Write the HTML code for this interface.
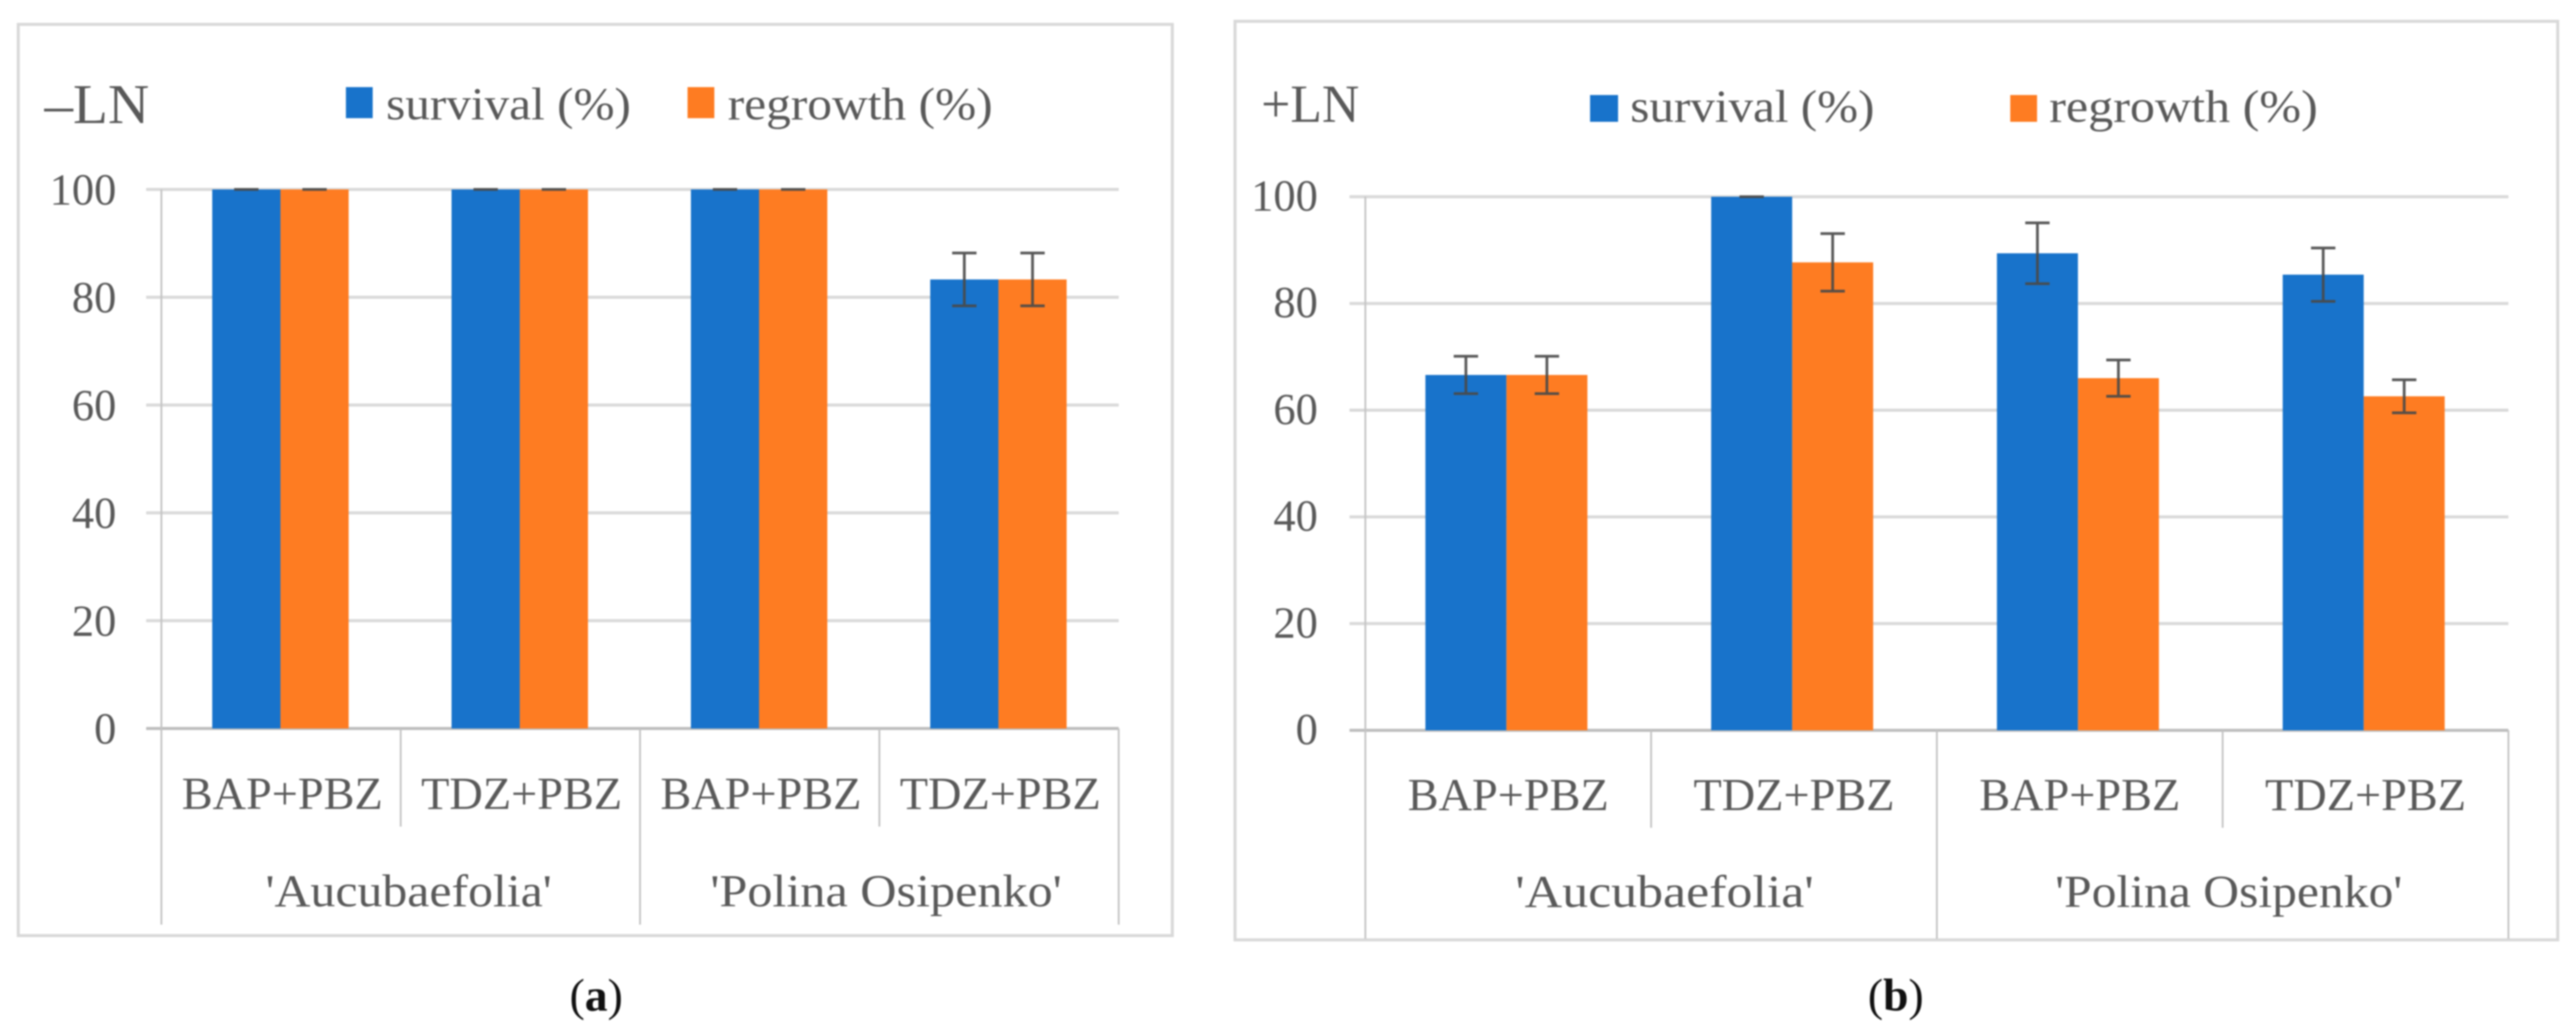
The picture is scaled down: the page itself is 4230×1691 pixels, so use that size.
<!DOCTYPE html>
<html lang="en">
<head>
<meta charset="utf-8">
<title>Survival and regrowth, -LN and +LN</title>
<style>
html,body{margin:0;padding:0;background:#fff;width:4230px;height:1691px;overflow:hidden}
svg{display:block;font-family:"Liberation Serif",serif;filter:blur(1.2px)}
</style>
</head>
<body>
<svg id="figure" width="4230" height="1691" viewBox="0 0 4230 1691" xmlns="http://www.w3.org/2000/svg">
  <rect x="30" y="40" width="1895" height="1496" fill="#fff" stroke="#d9d9d9" stroke-width="5"/>
  <rect x="2028" y="35" width="2172" height="1508" fill="#fff" stroke="#d9d9d9" stroke-width="5"/>
  <g id="panel-a"></g>
  <g id="panel-b"></g>

  <text x="73" y="202" font-size="92" fill="#595959" textLength="172" lengthAdjust="spacingAndGlyphs">–LN</text>
  <rect x="568" y="143" width="44" height="51" fill="#1873cb"/>
  <text x="634" y="196" font-size="75" fill="#595959" textLength="402" lengthAdjust="spacingAndGlyphs">survival (%)</text>
  <rect x="1129" y="143" width="44" height="51" fill="#fe7c22"/>
  <text x="1195" y="196" font-size="75" fill="#595959" textLength="435" lengthAdjust="spacingAndGlyphs">regrowth (%)</text>

  <text x="2071" y="200" font-size="88" fill="#595959" textLength="161" lengthAdjust="spacingAndGlyphs">+LN</text>
  <rect x="2611" y="156" width="46" height="44" fill="#1873cb"/>
  <text x="2677" y="200" font-size="75" fill="#595959" textLength="401" lengthAdjust="spacingAndGlyphs">survival (%)</text>
  <rect x="3301" y="156" width="44" height="44" fill="#fe7c22"/>
  <text x="3365" y="200" font-size="75" fill="#595959" textLength="441" lengthAdjust="spacingAndGlyphs">regrowth (%)</text>

  <text x="979" y="1659" font-size="75" fill="#111" text-anchor="middle">(<tspan font-weight="bold">a</tspan>)</text>
  <text x="3113" y="1659" font-size="75" fill="#111" text-anchor="middle">(<tspan font-weight="bold">b</tspan>)</text>
</svg>
<script>
const yTicks = [0, 20, 40, 60, 80, 100];
const treatments = ['BAP+PBZ', 'TDZ+PBZ', 'BAP+PBZ', 'TDZ+PBZ'];
const cultivars = ["'Aucubaefolia'", "'Polina Osipenko'"];

const survivalA = [100, 100, 100, 83.3];
const regrowthA = [100, 100, 100, 83.3];
const survivalErrA = [0, 0, 0, 4.9];
const regrowthErrA = [0, 0, 0, 4.9];

const survivalB = [66.6, 100, 89.4, 85.4];
const regrowthB = [66.6, 87.7, 66, 62.6];
const survivalErrB = [3.5, 0, 5.7, 5];
const regrowthErrB = [3.5, 5.4, 3.4, 3.1];

const NS = 'http://www.w3.org/2000/svg';
function make(parent, tag, attrs) {
  const el = document.createElementNS(NS, tag);
  for (const k in attrs) el.setAttribute(k, attrs[k]);
  parent.appendChild(el);
  return el;
}

function drawPanel(id, s, survival, regrowth, survivalErr, regrowthErr) {
  const root = document.getElementById(id);
  const scaleY = v => s.y0 + (s.y100 - s.y0) * v / 100;
  const band = (s.x1 - s.x0) / treatments.length;
  const center = i => s.x0 + band * (i + 0.5) + s.barShift;

  yTicks.forEach(t => {
    const line = make(root, 'line', {x1: s.gridStart, x2: s.x1, y1: scaleY(t), y2: scaleY(t), stroke: t === 0 ? '#bdbdbd' : '#d9d9d9', 'stroke-width': 5});
    
    
    const label = make(root, 'text', {x: s.tickRight, y: scaleY(t) + s.tickDrop, 'font-size': 73, fill: '#595959', 'text-anchor': 'end'});
    label.textContent = t;
    
    
  });

  const yAxis = make(root, 'line', {x1: s.x0, x2: s.x0, y1: scaleY(100), y2: s.y0, stroke: '#c4c4c4', 'stroke-width': 3});
  
  

  treatments.forEach((name, i) => {
    const c = center(i);
    const bar1 = make(root, 'rect', {x: c - s.barW, y: scaleY(survival[i]), width: s.barW, height: s.y0 - scaleY(survival[i]), fill: '#1873cb'});
    
    
    const bar2 = make(root, 'rect', {x: c, y: scaleY(regrowth[i]), width: s.barW, height: s.y0 - scaleY(regrowth[i]), fill: '#fe7c22'});
    
    

    [[c - s.barW / 2, survival[i], survivalErr[i], 'survival'], [c + s.barW / 2, regrowth[i], regrowthErr[i], 'regrowth']].forEach(e => {
      const top = scaleY(e[1] + e[2]);
      const bot = scaleY(e[1] - e[2]);
      const err = make(root, 'path', {d: 'M' + (e[0] - 20) + ' ' + top + 'h40M' + e[0] + ' ' + top + 'V' + bot + 'M' + (e[0] - 20) + ' ' + bot + 'h40', stroke: '#4a4a4a', 'stroke-width': 4.5, fill: 'none', 'stroke-opacity': 0.92});
      
      
    });

    const tick = make(root, 'text', {x: s.x0 + band * (i + 0.5) + s.catShift, y: s.catBase, 'font-size': 75, fill: '#595959', 'text-anchor': 'middle', textLength: s.catW, lengthAdjust: 'spacingAndGlyphs'});
    tick.textContent = name;
    
    
  });

  for (let i = 0; i <= treatments.length; i++) {
    const x = s.x0 + band * i;
    const major = i % 2 === 0;
    const div = make(root, 'line', {x1: x, x2: x, y1: s.y0, y2: major ? s.majorEnd : s.minorEnd, stroke: '#c4c4c4', 'stroke-width': 3});
    
    
  }

  cultivars.forEach((name, i) => {
    const label = make(root, 'text', {x: s.x0 + band * (2 * i + 1) + s.groupShift[i], y: s.groupBase, 'font-size': 75, fill: '#595959', 'text-anchor': 'middle', textLength: s.groupW[i], lengthAdjust: 'spacingAndGlyphs'});
    label.textContent = name;
    
    
  });
}

drawPanel('panel-a',
  {x0: 265, x1: 1837, gridStart: 240, y0: 1196, y100: 311, barW: 112, barShift: -1, tickRight: 191, tickDrop: 25, catShift: 2, catW: 330, catBase: 1328, groupBase: 1488, groupShift: [13, 11], groupW: [470, 577], minorEnd: 1357, majorEnd: 1518},
  survivalA, regrowthA, survivalErrA, regrowthErrA);
drawPanel('panel-b',
  {x0: 2242, x1: 4119, gridStart: 2216, y0: 1199, y100: 323, barW: 133, barShift: -3, tickRight: 2164, tickDrop: 23, catShift: 0, catW: 330, catBase: 1330, groupBase: 1489, groupShift: [22, 10], groupW: [490, 570], minorEnd: 1359, majorEnd: 1541},
  survivalB, regrowthB, survivalErrB, regrowthErrB);
</script>
</body>
</html>
